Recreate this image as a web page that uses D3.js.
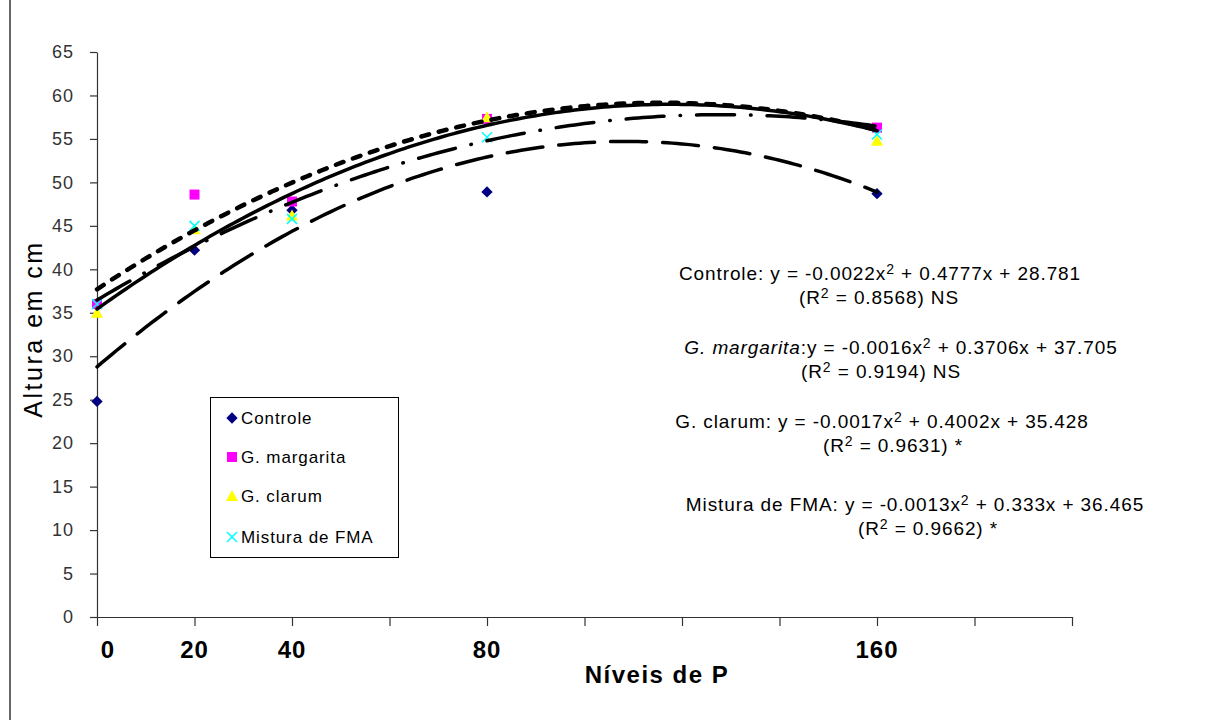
<!DOCTYPE html>
<html>
<head>
<meta charset="utf-8">
<script src="https://cdn.jsdelivr.net/npm/d3@7"></script>
<style>
  body { margin: 0; background: #fff; }
  svg { display: block; font-family: "Liberation Sans", Arial, sans-serif; }
  .axis path, .axis line { stroke: #333; stroke-width: 1.2; }
  .axis text { fill: #333; }
</style>
</head>
<body>
<svg width="1205" height="720"></svg>
<script>
// P levels (x) and mean plant height (cm) per treatment
const levels = [0, 20, 40, 80, 160];
const seriesNames = ["Controle", "G. margarita", "G. clarum", "Mistura de FMA"];
const controle = [24.8, 42.2, 46.8, 48.9, 48.7];
const margarita = [36.0, 48.6, 47.8, 57.3, 56.3];
const clarum = [35.0, 44.6, 46.2, 57.5, 54.8];
const mistura = [36.0, 45.0, 45.8, 55.2, 55.5];

// quadratic trendlines printed on the chart: y = a*x^2 + b*x + c
const coefA = [-0.0022, -0.0016, -0.0017, -0.0013];
const coefB = [0.4777, 0.3706, 0.4002, 0.333];
const coefC = [28.781, 37.705, 35.428, 36.465];
const rSquared = ["0.8568", "0.9194", "0.9631", "0.9662"];
const signif = ["NS", "NS", "*", "*"];

const yTicks = d3.range(0, 66, 5);
const xTicks = d3.range(0, 201, 20);

window.onload = main;

function main() {
  const svg = d3.select("svg");
  const x = d3.scaleLinear().domain([0, 200]).range([97, 1072]);
  const y = d3.scaleLinear().domain([0, 65]).range([617, 52]);

  // frame line on the left edge
  svg.append("line")
    .attr("x1", 10).attr("x2", 10).attr("y1", 0).attr("y2", 720)
    .attr("stroke", "#000").attr("stroke-width", 1.2);

  // axes
  const yAxis = svg.append("g")
    .attr("class", "axis")
    .attr("transform", `translate(${x(0)},0)`)
    .call(d3.axisLeft(y).tickValues(yTicks).tickSize(7).tickSizeOuter(0).tickPadding(16));
  yAxis.selectAll("text")
    .style("font-size", "18px")
    .style("letter-spacing", "1px")
    .attr("fill", "#444");

  svg.append("g")
    .attr("class", "axis")
    .attr("transform", `translate(0,${y(0)})`)
    .call(d3.axisBottom(x).tickValues(xTicks).tickSize(9).tickSizeOuter(0).tickFormat(""));

  svg.append("g")
    .selectAll("text")
    .data(levels)
    .enter()
    .append("text")
    .attr("x", (d) => x(d) + (d === 0 ? 11 : 0))
    .attr("y", 658)
    .attr("text-anchor", "middle")
    .style("font-size", "24px")
    .style("font-weight", "bold")
    .style("letter-spacing", "1px")
    .text((d) => d);

  svg.append("text")
    .attr("x", 657).attr("y", 683)
    .attr("text-anchor", "middle")
    .style("font-size", "24px")
    .style("font-weight", "bold")
    .style("letter-spacing", "1.5px")
    .text("Níveis de P");

  svg.append("text")
    .attr("transform", "translate(42,329) rotate(-90)")
    .attr("text-anchor", "middle")
    .style("font-size", "25px")
    .style("letter-spacing", "2.5px")
    .text("Altura em cm");

  const values = [controle, margarita, clarum, mistura];
  const colors = ["#000080", "#ff00ff", "#ffff00", "#00ffff"];

  // markers
  values.forEach((vals, s) => {
    const g = svg.append("g");
    vals.forEach((v, i) => drawMarker(g, s, x(levels[i]), y(v), colors[s]));
  });

  // trendlines
  const dashes = ["36,16", "8,10", null, "38,16,0.5,16"];
  const widths = [3.5, 4.5, 3.5, 3.5];
  const line = d3.line().x((d) => x(d[0])).y((d) => y(d[1]));
  const xs = d3.range(0, 160.01, 1);
  [0, 3, 2, 1].forEach((s) => {
    const pts = xs.map((t) => [t, coefA[s] * t * t + coefB[s] * t + coefC[s]]);
    svg.append("path")
      .attr("d", line(pts))
      .attr("fill", "none")
      .attr("stroke", "#000")
      .attr("stroke-width", widths[s])
      .attr("stroke-linecap", "round")
      .attr("stroke-dasharray", dashes[s]);
  });

  // legend
  const legend = svg.append("g");
  legend.append("rect")
    .attr("x", 210.5).attr("y", 397.5).attr("width", 188).attr("height", 160)
    .attr("fill", "#fff").attr("stroke", "#000").attr("stroke-width", 1);
  const rowY = [418, 457, 496, 537];
  seriesNames.forEach((name, s) => {
    drawMarker(legend, s, 232, rowY[s], colors[s]);
    legend.append("text")
      .attr("x", 241).attr("y", rowY[s] + 6)
      .style("font-size", "17px")
      .style("letter-spacing", "0.9px")
      .text(name);
  });

  // trendline equations
  const eqX = [880, 901, 882, 915];
  const eqY = [280, 354, 428, 511];
  const r2X = [879, 881, 893, 928];
  seriesNames.forEach((name, s) => {
    const t = svg.append("text")
      .attr("x", eqX[s]).attr("y", eqY[s])
      .attr("text-anchor", "middle")
      .style("font-size", "19px")
      .style("letter-spacing", "0.9px");
    if (s === 1) {
      t.append("tspan").style("font-style", "italic").text(name);
      t.append("tspan").text(":y = " + coefA[s] + "x");
    } else {
      t.append("tspan").text(name + ": y = " + coefA[s] + "x");
    }
    t.append("tspan").attr("dy", -6).style("font-size", "14px").text("2");
    t.append("tspan").attr("dy", 6).text(" + " + coefB[s] + "x  + " + coefC[s]);

    const r = svg.append("text")
      .attr("x", r2X[s]).attr("y", eqY[s] + 24)
      .attr("text-anchor", "middle")
      .style("font-size", "19px")
      .style("letter-spacing", "0.9px");
    r.append("tspan").text("(R");
    r.append("tspan").attr("dy", -6).style("font-size", "14px").text("2");
    r.append("tspan").attr("dy", 6).text(" = " + rSquared[s] + ") " + signif[s]);
  });
}

function drawMarker(g, s, cx, cy, color) {
  if (s === 0) {
    g.append("path")
      .attr("d", d3.symbol().type(d3.symbolSquare).size(64)())
      .attr("transform", `translate(${cx},${cy}) rotate(45)`)
      .attr("fill", color);
  } else if (s === 1) {
    g.append("rect")
      .attr("x", cx - 5).attr("y", cy - 5).attr("width", 10).attr("height", 10)
      .attr("fill", color);
  } else if (s === 2) {
    g.append("path")
      .attr("d", `M${cx},${cy - 6}L${cx + 6},${cy + 5}L${cx - 6},${cy + 5}Z`)
      .attr("fill", color);
  } else {
    g.append("path")
      .attr("d", `M${cx - 5},${cy - 5}L${cx + 5},${cy + 5}M${cx + 5},${cy - 5}L${cx - 5},${cy + 5}`)
      .attr("stroke", color)
      .attr("stroke-width", 1.5);
  }
}
</script>
</body>
</html>
